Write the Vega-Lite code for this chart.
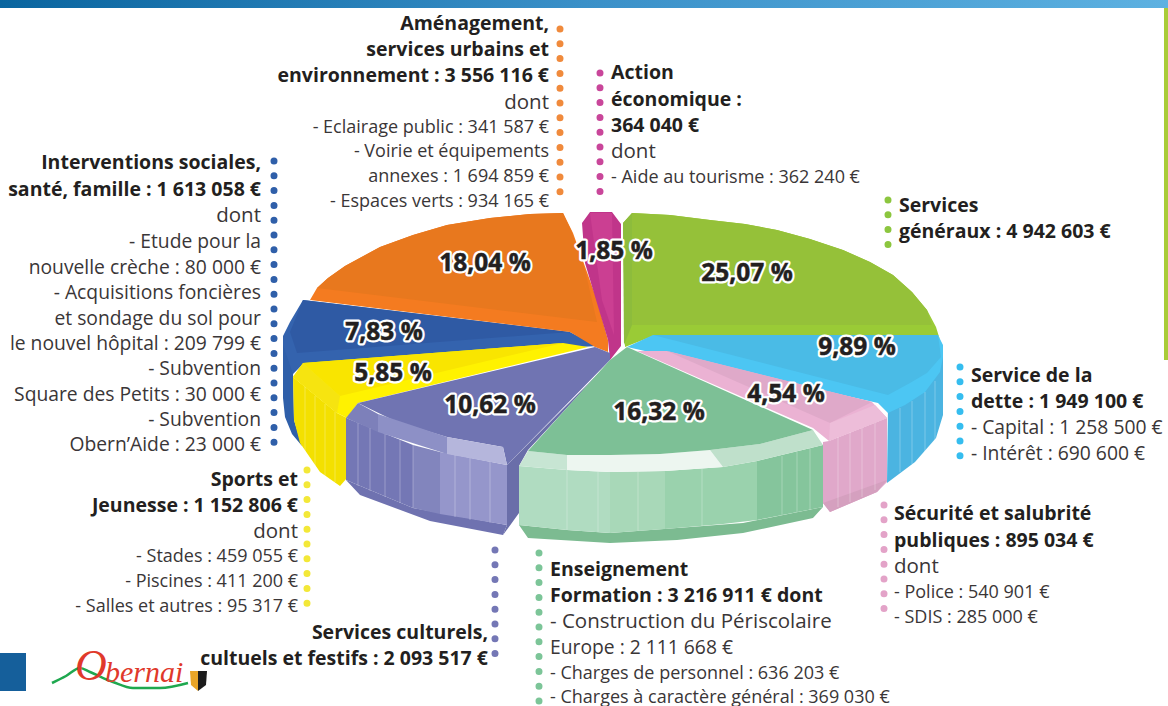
{
"$schema":"https://vega.github.io/schema/vega-lite/v6.json",
"width":1168,"height":706,"padding":0,
"autosize":{"type":"none"},
"background":"white",
"config":{"view":{"stroke":null}},
"resolve":{"scale":{"color":"independent","size":"independent"}},
"datasets":{
"blocks":[
{"name":"bar","x":0,"y":0,"x2":1168,"y2":8},
{"name":"edge","x":1164,"y":8,"x2":1168,"y2":360},
{"name":"square","x":0,"y":653,"x2":26,"y2":691}
],
"parts":[
{"part":"blueSide","x":283,"y":338},{"part":"blueSide","x":293,"y":372},{"part":"blueSide","x":294,"y":420},{"part":"blueSide","x":302,"y":446},{"part":"blueSide","x":292,"y":434},{"part":"blueSide","x":285,"y":417},{"part":"blueSide","x":283,"y":398},
{"part":"blueRim","x":290,"y":322},{"part":"blueRim","x":303,"y":300},{"part":"blueRim","x":570,"y":332},{"part":"blueRim","x":597,"y":346},{"part":"blueRim","x":303,"y":364},{"part":"blueRim","x":293,"y":374},{"part":"blueRim","x":283,"y":345},{"part":"blueRim","x":283,"y":336},
{"part":"blueTop","x":303,"y":300},{"part":"blueTop","x":570,"y":332},{"part":"blueTop","x":297,"y":353},{"part":"blueTop","x":290,"y":332},
{"part":"orangeBase","x":563,"y":213},{"part":"orangeBase","x":530,"y":214},{"part":"orangeBase","x":490,"y":218},{"part":"orangeBase","x":447,"y":225},{"part":"orangeBase","x":413,"y":235},{"part":"orangeBase","x":380,"y":247},{"part":"orangeBase","x":345,"y":266},{"part":"orangeBase","x":328,"y":278},{"part":"orangeBase","x":317,"y":288},{"part":"orangeBase","x":310,"y":300},{"part":"orangeBase","x":570,"y":332},{"part":"orangeBase","x":595,"y":347},{"part":"orangeBase","x":608,"y":352},{"part":"orangeBase","x":608,"y":340},{"part":"orangeBase","x":597,"y":300},{"part":"orangeBase","x":573,"y":233},
{"part":"orangeTop","x":563,"y":213},{"part":"orangeTop","x":530,"y":214},{"part":"orangeTop","x":490,"y":218},{"part":"orangeTop","x":447,"y":225},{"part":"orangeTop","x":413,"y":235},{"part":"orangeTop","x":380,"y":247},{"part":"orangeTop","x":345,"y":266},{"part":"orangeTop","x":328,"y":278},{"part":"orangeTop","x":317,"y":288},{"part":"orangeTop","x":597,"y":322},{"part":"orangeTop","x":585,"y":270},{"part":"orangeTop","x":571,"y":230},
{"part":"magBase","x":582,"y":223},{"part":"magBase","x":590,"y":212},{"part":"magBase","x":612,"y":212},{"part":"magBase","x":621,"y":224},{"part":"magBase","x":621,"y":346},{"part":"magBase","x":610,"y":360},{"part":"magBase","x":608,"y":340},{"part":"magBase","x":585,"y":263},
{"part":"magTop","x":590,"y":213},{"part":"magTop","x":612,"y":213},{"part":"magTop","x":614,"y":335},{"part":"magTop","x":602,"y":300},
{"part":"greenBase","x":623,"y":223},{"part":"greenBase","x":632,"y":213},{"part":"greenBase","x":670,"y":215},{"part":"greenBase","x":710,"y":220},{"part":"greenBase","x":745,"y":224},{"part":"greenBase","x":777,"y":230},{"part":"greenBase","x":810,"y":239},{"part":"greenBase","x":843,"y":250},{"part":"greenBase","x":870,"y":262},{"part":"greenBase","x":893,"y":275},{"part":"greenBase","x":912,"y":292},{"part":"greenBase","x":927,"y":310},{"part":"greenBase","x":936,"y":327},{"part":"greenBase","x":940,"y":340},{"part":"greenBase","x":938,"y":336},{"part":"greenBase","x":653,"y":336},{"part":"greenBase","x":625,"y":347},
{"part":"greenTop","x":632,"y":213},{"part":"greenTop","x":670,"y":215},{"part":"greenTop","x":710,"y":220},{"part":"greenTop","x":745,"y":224},{"part":"greenTop","x":777,"y":230},{"part":"greenTop","x":810,"y":239},{"part":"greenTop","x":843,"y":250},{"part":"greenTop","x":870,"y":262},{"part":"greenTop","x":893,"y":275},{"part":"greenTop","x":912,"y":292},{"part":"greenTop","x":927,"y":310},{"part":"greenTop","x":932,"y":325},{"part":"greenTop","x":632,"y":325},
{"part":"greenStrip","x":623,"y":223},{"part":"greenStrip","x":632,"y":213},{"part":"greenStrip","x":632,"y":325},{"part":"greenStrip","x":624,"y":345},
{"part":"skySide","x":888,"y":405},{"part":"skySide","x":905,"y":398},{"part":"skySide","x":925,"y":385},{"part":"skySide","x":940,"y":365},{"part":"skySide","x":943,"y":350},{"part":"skySide","x":943,"y":415},{"part":"skySide","x":936,"y":438},{"part":"skySide","x":915,"y":462},{"part":"skySide","x":887,"y":483},
{"part":"skyRim","x":627,"y":347},{"part":"skyRim","x":653,"y":335},{"part":"skyRim","x":938,"y":335},{"part":"skyRim","x":943,"y":345},{"part":"skyRim","x":943,"y":357},{"part":"skyRim","x":940,"y":372},{"part":"skyRim","x":925,"y":392},{"part":"skyRim","x":905,"y":405},{"part":"skyRim","x":888,"y":413},{"part":"skyRim","x":878,"y":403},
{"part":"skyTop","x":653,"y":335},{"part":"skyTop","x":938,"y":335},{"part":"skyTop","x":941,"y":357},{"part":"skyTop","x":927,"y":373},{"part":"skyTop","x":910,"y":383},{"part":"skyTop","x":888,"y":395},
{"part":"pinkSide","x":823,"y":442},{"part":"pinkSide","x":829,"y":441},{"part":"pinkSide","x":887,"y":418},{"part":"pinkSide","x":887,"y":482},{"part":"pinkSide","x":877,"y":492},{"part":"pinkSide","x":830,"y":512},{"part":"pinkSide","x":823,"y":503},
{"part":"pinkLow","x":823,"y":503},{"part":"pinkLow","x":887,"y":480},{"part":"pinkLow","x":877,"y":492},{"part":"pinkLow","x":830,"y":512},
{"part":"pinkTop","x":637,"y":351},{"part":"pinkTop","x":667,"y":351},{"part":"pinkTop","x":872,"y":402},{"part":"pinkTop","x":887,"y":418},{"part":"pinkTop","x":829,"y":441},{"part":"pinkTop","x":813,"y":428},
{"part":"pinkInner","x":667,"y":351},{"part":"pinkInner","x":872,"y":402},{"part":"pinkInner","x":830,"y":423},
{"part":"pinkBevel","x":830,"y":423},{"part":"pinkBevel","x":875,"y":405},{"part":"pinkBevel","x":887,"y":418},{"part":"pinkBevel","x":829,"y":441},
{"part":"yellowSide","x":293,"y":377},{"part":"yellowSide","x":337,"y":413},{"part":"yellowSide","x":347,"y":418},{"part":"yellowSide","x":347,"y":478},{"part":"yellowSide","x":340,"y":486},{"part":"yellowSide","x":320,"y":472},{"part":"yellowSide","x":300,"y":443},{"part":"yellowSide","x":294,"y":420},
{"part":"yellowTop","x":588,"y":347},{"part":"yellowTop","x":563,"y":343},{"part":"yellowTop","x":303,"y":363},{"part":"yellowTop","x":293,"y":377},{"part":"yellowTop","x":337,"y":413},{"part":"yellowTop","x":347,"y":418},{"part":"yellowTop","x":358,"y":403},
{"part":"yellowInner","x":563,"y":343},{"part":"yellowInner","x":303,"y":363},{"part":"yellowInner","x":340,"y":396},
{"part":"yellowBevel","x":303,"y":363},{"part":"yellowBevel","x":293,"y":377},{"part":"yellowBevel","x":337,"y":413},{"part":"yellowBevel","x":340,"y":396},
{"part":"purpleWedge","x":507,"y":465},{"part":"purpleWedge","x":600,"y":372},{"part":"purpleWedge","x":528,"y":450},{"part":"purpleWedge","x":519,"y":466},{"part":"purpleWedge","x":519,"y":513},{"part":"purpleWedge","x":503,"y":535},{"part":"purpleWedge","x":507,"y":525},
{"part":"purpleLow","x":346,"y":480},{"part":"purpleLow","x":413,"y":508},{"part":"purpleLow","x":507,"y":525},{"part":"purpleLow","x":503,"y":535},{"part":"purpleLow","x":430,"y":521},{"part":"purpleLow","x":360,"y":495},
{"part":"purpleS1","x":346,"y":418},{"part":"purpleS1","x":413,"y":445},{"part":"purpleS1","x":413,"y":508},{"part":"purpleS1","x":346,"y":480},
{"part":"purpleS2","x":413,"y":445},{"part":"purpleS2","x":440,"y":452},{"part":"purpleS2","x":440,"y":514},{"part":"purpleS2","x":413,"y":508},
{"part":"purpleS3","x":440,"y":452},{"part":"purpleS3","x":507,"y":465},{"part":"purpleS3","x":507,"y":525},{"part":"purpleS3","x":440,"y":514},
{"part":"purpleTop","x":595,"y":347},{"part":"purpleTop","x":610,"y":353},{"part":"purpleTop","x":610,"y":360},{"part":"purpleTop","x":507,"y":465},{"part":"purpleTop","x":503,"y":447},{"part":"purpleTop","x":447,"y":437},{"part":"purpleTop","x":397,"y":422},{"part":"purpleTop","x":358,"y":403},
{"part":"purpleB1","x":358,"y":403},{"part":"purpleB1","x":378,"y":414},{"part":"purpleB1","x":378,"y":432},{"part":"purpleB1","x":346,"y":418},
{"part":"purpleB2","x":378,"y":414},{"part":"purpleB2","x":447,"y":437},{"part":"purpleB2","x":447,"y":454},{"part":"purpleB2","x":378,"y":432},
{"part":"purpleB3","x":447,"y":437},{"part":"purpleB3","x":503,"y":447},{"part":"purpleB3","x":507,"y":465},{"part":"purpleB3","x":447,"y":454},
{"part":"tealLow","x":519,"y":525},{"part":"tealLow","x":567,"y":530},{"part":"tealLow","x":610,"y":533},{"part":"tealLow","x":677,"y":528},{"part":"tealLow","x":743,"y":523},{"part":"tealLow","x":823,"y":507},{"part":"tealLow","x":813,"y":518},{"part":"tealLow","x":743,"y":533},{"part":"tealLow","x":677,"y":540},{"part":"tealLow","x":610,"y":543},{"part":"tealLow","x":528,"y":538},
{"part":"tealS1","x":519,"y":466},{"part":"tealS1","x":567,"y":470},{"part":"tealS1","x":610,"y":472},{"part":"tealS1","x":610,"y":533},{"part":"tealS1","x":567,"y":530},{"part":"tealS1","x":519,"y":525},
{"part":"tealS2","x":610,"y":472},{"part":"tealS2","x":665,"y":471},{"part":"tealS2","x":665,"y":529},{"part":"tealS2","x":610,"y":533},
{"part":"tealS3","x":665,"y":471},{"part":"tealS3","x":723,"y":467},{"part":"tealS3","x":757,"y":461},{"part":"tealS3","x":757,"y":520},{"part":"tealS3","x":723,"y":524},{"part":"tealS3","x":665,"y":529},
{"part":"tealS4","x":757,"y":461},{"part":"tealS4","x":823,"y":445},{"part":"tealS4","x":823,"y":507},{"part":"tealS4","x":757,"y":520},
{"part":"tealB1","x":528,"y":451},{"part":"tealB1","x":567,"y":455},{"part":"tealB1","x":567,"y":470},{"part":"tealB1","x":519,"y":466},
{"part":"tealB2","x":567,"y":455},{"part":"tealB2","x":610,"y":455},{"part":"tealB2","x":660,"y":454},{"part":"tealB2","x":710,"y":450},{"part":"tealB2","x":723,"y":467},{"part":"tealB2","x":665,"y":471},{"part":"tealB2","x":610,"y":472},{"part":"tealB2","x":567,"y":470},
{"part":"tealB3","x":710,"y":450},{"part":"tealB3","x":760,"y":444},{"part":"tealB3","x":813,"y":430},{"part":"tealB3","x":823,"y":445},{"part":"tealB3","x":757,"y":461},{"part":"tealB3","x":723,"y":467},
{"part":"tealTop","x":627,"y":347},{"part":"tealTop","x":813,"y":430},{"part":"tealTop","x":760,"y":444},{"part":"tealTop","x":710,"y":450},{"part":"tealTop","x":660,"y":454},{"part":"tealTop","x":610,"y":455},{"part":"tealTop","x":567,"y":455},{"part":"tealTop","x":528,"y":451},{"part":"tealTop","x":610,"y":360},
{"part":"shieldL","x":190,"y":671},{"part":"shieldL","x":198,"y":671},{"part":"shieldL","x":198,"y":691},{"part":"shieldL","x":191,"y":685},
{"part":"shieldR","x":198,"y":671},{"part":"shieldR","x":207,"y":671},{"part":"shieldR","x":206,"y":685},{"part":"shieldR","x":198,"y":691}
],
"seams":[
{"x":305,"y":387,"x2":305,"y2":452},{"x":315,"y":396,"x2":315,"y2":466},{"x":325,"y":404,"x2":325,"y2":476},{"x":335,"y":412,"x2":335,"y2":482},
{"x":358,"y":423,"x2":358,"y2":486},{"x":370,"y":428,"x2":370,"y2":491},{"x":385,"y":434,"x2":385,"y2":497},{"x":400,"y":440,"x2":400,"y2":503},{"x":413,"y":445,"x2":413,"y2":508},{"x":455,"y":455,"x2":455,"y2":517},{"x":470,"y":458,"x2":470,"y2":520},{"x":490,"y":462,"x2":490,"y2":523},
{"x":567,"y":470,"x2":567,"y2":530},{"x":598,"y":472,"x2":598,"y2":532},{"x":638,"y":472,"x2":638,"y2":531},{"x":702,"y":469,"x2":702,"y2":526},{"x":782,"y":456,"x2":782,"y2":515},{"x":797,"y":452,"x2":797,"y2":512},{"x":810,"y":448,"x2":810,"y2":510},
{"x":838,"y":437,"x2":838,"y2":507},{"x":850,"y":432,"x2":850,"y2":502},{"x":862,"y":428,"x2":862,"y2":497},{"x":875,"y":423,"x2":875,"y2":490},
{"x":900,"y":408,"x2":900,"y2":472},{"x":912,"y":401,"x2":912,"y2":464},{"x":925,"y":392,"x2":925,"y2":453},{"x":935,"y":381,"x2":935,"y2":440}
],
"leaders":[
{"slice":"Aménagement","x":560,"y":29,"x2":560,"y2":206},
{"slice":"Action économique","x":600,"y":73,"x2":600,"y2":192},
{"slice":"Services généraux","x":888,"y":200,"x2":888,"y2":256},
{"slice":"Service de la dette","x":960,"y":367,"x2":960,"y2":456},
{"slice":"Sécurité","x":884,"y":505,"x2":884,"y2":622},
{"slice":"Enseignement","x":539,"y":553,"x2":539,"y2":706},
{"slice":"Services culturels","x":495,"y":550,"x2":495,"y2":665},
{"slice":"Sports","x":307,"y":470,"x2":307,"y2":607},
{"slice":"Interventions","x":274,"y":161,"x2":274,"y2":443}
],
"shares":[
{"share":"25,07 %","x":747,"y":273},{"share":"9,89 %","x":857,"y":347},{"share":"4,54 %","x":786,"y":394},{"share":"16,32 %","x":659,"y":412},{"share":"10,62 %","x":490,"y":405},{"share":"5,85 %","x":393,"y":373},{"share":"7,83 %","x":384,"y":332},{"share":"18,04 %","x":485,"y":263},{"share":"1,85 %","x":614,"y":251}
],
"labels":[
{"side":"R","weight":"B","role":"body","text":"Aménagement,","x":549,"y":23},
{"side":"R","weight":"B","role":"body","text":"services urbains et","x":549,"y":49},
{"side":"R","weight":"B","role":"body","text":"environnement : 3 556 116 €","x":549,"y":75},
{"side":"R","weight":"N","role":"body","text":"dont","x":549,"y":102},
{"side":"R","weight":"N","role":"detail","text":"- Eclairage public : 341 587 €","x":549,"y":127},
{"side":"R","weight":"N","role":"detail","text":"- Voirie et équipements","x":549,"y":151},
{"side":"R","weight":"N","role":"detail","text":"annexes : 1 694 859 €","x":549,"y":176},
{"side":"R","weight":"N","role":"detail","text":"- Espaces verts : 934 165 €","x":549,"y":201},
{"side":"R","weight":"B","role":"body","text":"Interventions sociales,","x":261,"y":162},
{"side":"R","weight":"B","role":"body","text":"santé, famille : 1 613 058 €","x":261,"y":189},
{"side":"R","weight":"N","role":"body","text":"dont","x":261,"y":215},
{"side":"R","weight":"N","role":"mid","text":"- Etude pour la","x":261,"y":241},
{"side":"R","weight":"N","role":"mid","text":"nouvelle crèche : 80 000 €","x":261,"y":267},
{"side":"R","weight":"N","role":"mid","text":"- Acquisitions foncières","x":261,"y":292},
{"side":"R","weight":"N","role":"mid","text":"et sondage du sol pour","x":261,"y":318},
{"side":"R","weight":"N","role":"mid","text":"le nouvel hôpital : 209 799 €","x":261,"y":343},
{"side":"R","weight":"N","role":"mid","text":"- Subvention","x":261,"y":368},
{"side":"R","weight":"N","role":"mid","text":"Square des Petits : 30 000 €","x":261,"y":394},
{"side":"R","weight":"N","role":"mid","text":"- Subvention","x":261,"y":419},
{"side":"R","weight":"N","role":"mid","text":"Obern’Aide : 23 000 €","x":261,"y":444},
{"side":"R","weight":"B","role":"body","text":"Sports et","x":298,"y":479},
{"side":"R","weight":"B","role":"body","text":"Jeunesse : 1 152 806 €","x":298,"y":505},
{"side":"R","weight":"N","role":"body","text":"dont","x":298,"y":531},
{"side":"R","weight":"N","role":"detail","text":"- Stades : 459 055 €","x":298,"y":556},
{"side":"R","weight":"N","role":"detail","text":"- Piscines : 411 200 €","x":298,"y":581},
{"side":"R","weight":"N","role":"detail","text":"- Salles et autres : 95 317 €","x":298,"y":606},
{"side":"R","weight":"B","role":"body","text":"Services culturels,","x":488,"y":632},
{"side":"R","weight":"B","role":"body","text":"cultuels  et festifs : 2 093 517 €","x":488,"y":658},
{"side":"L","weight":"B","role":"body","text":"Action","x":611,"y":72},
{"side":"L","weight":"B","role":"body","text":"économique :","x":611,"y":99},
{"side":"L","weight":"B","role":"body","text":"364 040 €","x":611,"y":125},
{"side":"L","weight":"N","role":"body","text":"dont","x":611,"y":151},
{"side":"L","weight":"N","role":"detail","text":"- Aide au tourisme : 362 240 €","x":611,"y":177},
{"side":"L","weight":"B","role":"body","text":"Services","x":899,"y":205},
{"side":"L","weight":"B","role":"body","text":"généraux : 4 942 603 €","x":899,"y":231},
{"side":"L","weight":"B","role":"body","text":"Service de la","x":971,"y":375},
{"side":"L","weight":"B","role":"body","text":"dette : 1 949 100 €","x":971,"y":401},
{"side":"L","weight":"N","role":"mid","text":"- Capital : 1 258 500 €","x":971,"y":427},
{"side":"L","weight":"N","role":"mid","text":"- Intérêt : 690 600 €","x":971,"y":453},
{"side":"L","weight":"B","role":"body","text":"Sécurité et salubrité","x":894,"y":513},
{"side":"L","weight":"B","role":"body","text":"publiques : 895 034 €","x":894,"y":540},
{"side":"L","weight":"N","role":"body","text":"dont","x":894,"y":566},
{"side":"L","weight":"N","role":"detail","text":"- Police : 540 901 €","x":894,"y":592},
{"side":"L","weight":"N","role":"detail","text":"- SDIS : 285 000 €","x":894,"y":617},
{"side":"L","weight":"B","role":"body","text":"Enseignement","x":550,"y":569},
{"side":"L","weight":"B","role":"body","text":"Formation : 3 216 911 € dont","x":550,"y":595},
{"side":"L","weight":"N","role":"body","text":"- Construction du Périscolaire","x":550,"y":621},
{"side":"L","weight":"N","role":"mid","text":"Europe : 2 111 668 €","x":550,"y":647},
{"side":"L","weight":"N","role":"detail","text":"- Charges de personnel : 636 203 €","x":550,"y":673},
{"side":"L","weight":"N","role":"detail","text":"- Charges à caractère général : 369 030 €","x":550,"y":697}
],
"swoosh":[
{"x":52,"y":683},{"x":66,"y":676},{"x":80,"y":668},{"x":90,"y":672},{"x":113,"y":682},{"x":133,"y":688},{"x":160,"y":688},{"x":188,"y":683}
],
"logoO":[{"t":"O","x":91,"y":667}],
"logoB":[{"t":"bernai","x":105,"y":673}]
},
"encoding":{
"x":{"field":"x","type":"quantitative","axis":null,"scale":{"domain":[0,1168],"nice":false,"zero":false}},
"y":{"field":"y","type":"quantitative","axis":null,"scale":{"domain":[0,706],"reverse":true,"nice":false,"zero":false}}
},
"layer":[
{"data":{"name":"blocks"},"transform":[{"filter":"datum.name==='bar'"}],
 "mark":{"type":"rect","color":{"gradient":"linear","x1":0,"x2":1,"y1":0,"y2":0,"stops":[{"offset":0,"color":"#0A659F"},{"offset":0.5,"color":"#3A90C8"},{"offset":1,"color":"#5DB1E1"}]}},
 "encoding":{"x2":{"field":"x2"},"y2":{"field":"y2"}}},
{"data":{"name":"blocks"},"transform":[{"filter":"datum.name!=='bar'"}],
 "mark":{"type":"rect"},
 "encoding":{"x2":{"field":"x2"},"y2":{"field":"y2"},
  "color":{"field":"name","type":"nominal","legend":null,"scale":{"domain":["edge","square"],"range":["#A9CC38","#155F9B"]}}}},
{"data":{"name":"parts"},
 "transform":[{"window":[{"op":"row_number","as":"n"}]}],
 "mark":{"type":"line","filled":true,"strokeWidth":0,"strokeJoin":"round"},
 "encoding":{"order":{"field":"n","type":"quantitative"},"detail":{"field":"part"},
  "color":{"field":"part","type":"nominal","legend":null,"scale":{
   "domain":["blueSide","blueRim","blueTop","orangeBase","orangeTop","magBase","magTop","greenBase","greenTop","greenStrip","skySide","skyRim","skyTop","pinkSide","pinkLow","pinkTop","pinkInner","pinkBevel","yellowSide","yellowTop","yellowInner","yellowBevel","purpleWedge","purpleLow","purpleS1","purpleS2","purpleS3","purpleTop","purpleB1","purpleB2","purpleB3","tealLow","tealS1","tealS2","tealS3","tealS4","tealB1","tealB2","tealB3","tealTop","shieldL","shieldR"],
   "range":["#2F5FA9","#3463AE","#2F5AA4","#F47B20","#E8781E","#C0358A","#CB3F92","#9ACB36","#95C139","#8DBC3C","#4BB4E1","#4CC6F3","#4ABBE6","#E0A8CA","#D5A0BF","#EBB2D3","#DFA9C9","#EDBDD9","#F3E000","#FFF200","#F9E500","#F6E410","#6A6EA9","#6F72B0","#7477B5","#8285BD","#9596CB","#7074B2","#7D80BA","#8D90C6","#B5B6DC","#7CBB91","#B0DCC1","#A8D8B8","#9AD2AD","#85C59C","#C7E5D3","#EDF6F0","#BFE0CB","#7DC096","#E9A528","#1C1C1C"]}}}},
{"data":{"name":"seams"},
 "mark":{"type":"rule","color":"#FFFFFF","opacity":0.4,"strokeWidth":0.7},
 "encoding":{"x2":{"field":"x2"},"y2":{"field":"y2"}}},
{"data":{"name":"leaders"},
 "mark":{"type":"rule","strokeWidth":7,"strokeCap":"round","strokeDash":[0,14.8]},
 "encoding":{"x2":{"field":"x2"},"y2":{"field":"y2"},
  "color":{"field":"slice","type":"nominal","legend":null,"scale":{
   "domain":["Aménagement","Action économique","Services généraux","Service de la dette","Sécurité","Enseignement","Services culturels","Sports","Interventions"],
   "range":["#F08A3C","#C9469A","#8CC63F","#35BDEF","#E3A3C8","#7CC598","#7477B5","#F3E838","#2F5FA9"]}}}},
{"data":{"name":"labels"},"transform":[{"filter":"datum.side==='R' && datum.weight==='B'"}],
 "mark":{"type":"text","align":"right","baseline":"middle","dy":1,"font":"Open Sans","fontWeight":"bold","fontSize":19.5,"color":"#231F20"},
 "encoding":{"text":{"field":"text"}}},
{"data":{"name":"labels"},"transform":[{"filter":"datum.side==='L' && datum.weight==='B'"}],
 "mark":{"type":"text","align":"left","baseline":"middle","dy":1,"font":"Open Sans","fontWeight":"bold","fontSize":19.5,"color":"#231F20"},
 "encoding":{"text":{"field":"text"}}},
{"data":{"name":"labels"},"transform":[{"filter":"datum.side==='R' && datum.weight==='N'"}],
 "mark":{"type":"text","align":"right","baseline":"middle","dy":1,"font":"Open Sans","color":"#3A3637"},
 "encoding":{"text":{"field":"text"},"size":{"field":"role","type":"nominal","legend":null,"scale":{"type":"ordinal","domain":["body","mid","detail"],"range":[20.5,19.3,18]}}}},
{"data":{"name":"labels"},"transform":[{"filter":"datum.side==='L' && datum.weight==='N'"}],
 "mark":{"type":"text","align":"left","baseline":"middle","dy":1,"font":"Open Sans","color":"#3A3637"},
 "encoding":{"text":{"field":"text"},"size":{"field":"role","type":"nominal","legend":null,"scale":{"type":"ordinal","domain":["body","mid","detail"],"range":[20.5,19.3,18]}}}},
{"data":{"name":"shares"},
 "mark":{"type":"text","align":"center","baseline":"middle","dy":1,"font":"Open Sans","fontWeight":"bold","fontSize":24.5,"stroke":"white","strokeWidth":5,"strokeJoin":"round","color":"white"},
 "encoding":{"text":{"field":"share"}}},
{"data":{"name":"shares"},
 "mark":{"type":"text","align":"center","baseline":"middle","dy":1,"font":"Open Sans","fontWeight":"bold","fontSize":24.5,"color":"#231F20","stroke":"#231F20","strokeWidth":0.5},
 "encoding":{"text":{"field":"share"}}},
{"data":{"name":"swoosh"},
 "mark":{"type":"line","color":"#1FA84F","strokeWidth":2.5,"interpolate":"monotone"},
 "encoding":{}},
{"data":{"name":"logoO"},
 "mark":{"type":"text","align":"center","baseline":"middle","font":"Liberation Serif","fontStyle":"italic","fontSize":44,"color":"#E0392B"},
 "encoding":{"text":{"field":"t"}}},
{"data":{"name":"logoB"},
 "mark":{"type":"text","align":"left","baseline":"middle","font":"Liberation Serif","fontStyle":"italic","fontSize":30,"color":"#E0392B"},
 "encoding":{"text":{"field":"t"}}}
]
}
